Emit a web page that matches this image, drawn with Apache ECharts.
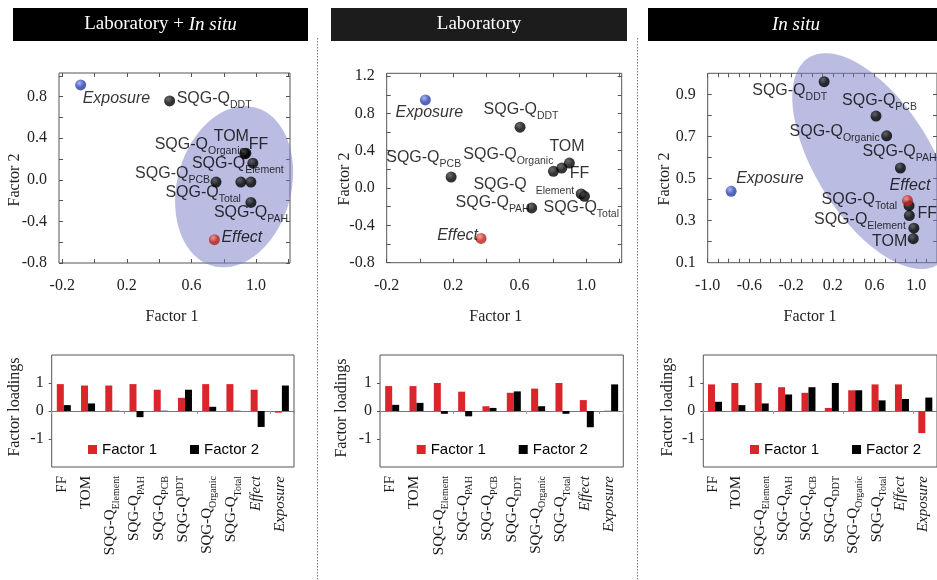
<!DOCTYPE html>
<html><head><meta charset="utf-8">
<script src="https://cdn.jsdelivr.net/npm/echarts@6/dist/echarts.min.js"></script>
<style>html,body{margin:0;padding:0;background:#fff}#c{width:937px;height:580px}</style>
</head><body><div id="c"></div>
<script>
// ---------------- DATA ----------------
const varKeys = ['FF','TOM','Element','PAH','PCB','DDT','Organic','Total','Effect','Exposure'];
const panelTitles = ['Laboratory + {i|In situ}', 'Laboratory', '{i|In situ}'];

// factor biplot coordinates (Factor 1, Factor 2)
const combF1 = [0.98, 0.937, 0.906, 0.968, 0.752, 0.465, 0.93, 0.968, 0.742, -0.086];
const combF2 = [0.16, 0.256, -0.022, -0.218, -0.022, 0.758, 0.25, -0.022, -0.576, 0.912];
const labF1  = [0.854, 0.90, 0.971, 0.673, 0.188, 0.603, 0.804, 0.991, 0.368, 0.033];
const labF2  = [0.214, 0.268, -0.063, -0.213, 0.118, 0.652, 0.179, -0.088, -0.540, 0.944];
const situF1 = [0.935, 0.972, 0.978, 0.849, 0.615, 0.117, 0.717, 0.932, 0.917, -0.775];
const situF2 = [0.324, 0.214, 0.264, 0.550, 0.797, 0.960, 0.703, 0.371, 0.395, 0.439];

// factor loadings (bar charts)
const combLoad1 = [0.96, 0.91, 0.91, 0.96, 0.76, 0.47, 0.96, 0.96, 0.76, -0.06];
const combLoad2 = [0.21, 0.27, 0.01, -0.22, 0.01, 0.76, 0.15, 0.01, -0.57, 0.91];
const labLoad1  = [0.89, 0.89, 1.0, 0.69, 0.17, 0.65, 0.80, 1.0, 0.39, 0.01];
const labLoad2  = [0.22, 0.29, -0.10, -0.19, 0.11, 0.70, 0.17, -0.10, -0.58, 0.95];
const situLoad1 = [0.95, 1.0, 1.0, 0.85, 0.65, 0.11, 0.74, 0.95, 0.95, -0.79];
const situLoad2 = [0.33, 0.21, 0.27, 0.59, 0.85, 1.0, 0.74, 0.38, 0.43, 0.48];

// tick values / tick labels
const combXTicks = [-0.2, 0, 0.2, 0.4, 0.6, 0.8, 1.0, 1.2];
const combXLabels = [-0.2, 0.2, 0.6, 1.0];
const combYTicks = [-0.8, -0.6, -0.4, -0.2, 0, 0.2, 0.4, 0.6, 0.8, 1.0];
const combYLabels = [-0.8, -0.4, 0, 0.4, 0.8];
const labXTicks = [-0.2, 0, 0.2, 0.4, 0.6, 0.8, 1.0, 1.2];
const labXLabels = [-0.2, 0.2, 0.6, 1.0];
const labYTicks = [-0.8, -0.6, -0.4, -0.2, 0, 0.2, 0.4, 0.6, 0.8, 1.0, 1.2];
const labYLabels = [-0.8, -0.4, 0, 0.4, 0.8, 1.2];
const situXTicks = [-1.0, -0.9, -0.8, -0.7, -0.6, -0.5, -0.4, -0.3, -0.2, -0.1, 0, 0.1, 0.2, 0.3, 0.4, 0.5, 0.6, 0.7, 0.8, 0.9, 1.0, 1.1];
const situXLabels = [-1.0, -0.6, -0.2, 0.2, 0.6, 1.0];
const situYTicks = [0.2, 0.3, 0.4, 0.5, 0.6, 0.7, 0.8, 0.9];
const situYLabels = [0.1, 0.3, 0.5, 0.7, 0.9];
const loadTicks = [-1, 0, 1];
const loadLabels = [-1, 0, 1];
const seriesNames = ['Factor 1', 'Factor 2'];

// ---------------- STYLE / LAYOUT ----------------
const SERIF = '"Liberation Serif","Times New Roman",serif';
const SANS = '"Liberation Sans",Arial,sans-serif';
const RED = '#d9262b';

// label placement: [align, dx, dy] relative to point centre
const LBL_COMB = {FF:['left',-4,-17], TOM:['right',3,-15], Organic:['right',0,-7], Element:['left',-49,-16],
  Total:['right',-10,13], PCB:['right',-6,-6], PAH:['left',-37,12], DDT:['left',7,0], Effect:['left',7,0], Exposure:['left',2,16]};
const LBL_LAB = {Exposure:['center',4,15], DDT:['center',1,-16], PCB:['right',10,-17], Organic:['right',0,-15], TOM:['left',-20,-14],
  FF:['left',8,8], Element:['right',-7,-7], Total:['left',-41,13], PAH:['right',-2,-3], Effect:['right',-3,-1]};
const LBL_SITU = {DDT:['right',3,11], PCB:['left',-34,-13], Organic:['right',-7,-2], PAH:['left',-38,-14], Effect:['left',-18,-13],
  Total:['right',-12,-4], FF:['left',8,0], Element:['right',-8,-7], TOM:['right',-6,5], Exposure:['left',5,-11]};

const PANELS = [
  {title: panelTitles[0], hdr:{x:13, w:295, fill:'#000'}, f1:combF1, f2:combF2, l1:combLoad1, l2:combLoad2,
   sc:{left:59, top:73, width:231, height:190}, xr:[-0.22,1.21], yr:[-0.8,1.027],
   xt:combXTicks, xl:combXLabels, yt:combYTicks, yl:combYLabels,
   bar:{left:51.7, top:355, width:242.3, height:112}, leg:88, lbl:LBL_COMB,
   ell:{c:[0.864,-0.067], a:82, b:57, ang:-75}, t2:[15,180], t1:[172,316.7], tl:[15,407], sup:true},
  {title: panelTitles[1], hdr:{x:331, w:296, fill:'#1c1c1c'}, f1:labF1, f2:labF2, l1:labLoad1, l2:labLoad2,
   sc:{left:386.7, top:73.3, width:235, height:189.4}, xr:[-0.2,1.215], yr:[-0.8,1.23],
   xt:labXTicks, xl:labXLabels, yt:labYTicks, yl:labYLabels,
   bar:{left:380, top:355, width:243.3, height:112}, leg:416.7, lbl:LBL_LAB,
   ell:null, t2:[345,179], t1:[495.7,316.7], tl:[341.7,408], gapEl:true},
  {title: panelTitles[2], hdr:{x:648, w:296, fill:'#000'}, f1:situF1, f2:situF2, l1:situLoad1, l2:situLoad2,
   sc:{left:707.7, top:73.3, width:238.3, height:189.4}, xr:[-1.0,1.2], yr:[0.1,1.0],
   xt:situXTicks, xl:situXLabels, yt:situYTicks, yl:situYLabels,
   bar:{left:703.3, top:355, width:243, height:112}, leg:750, lbl:LBL_SITU,
   ell:{c:[0.591,0.583], a:122, b:58, ang:58}, t2:[665,179], t1:[810,316.7], tl:[668,407]}
];

const RICH_SANS = {
  m:{fontFamily:SANS, fontSize:16, lineHeight:20, verticalAlign:'top', color:'#000'},
  s:{fontFamily:SANS, fontSize:10.5, lineHeight:20, verticalAlign:'bottom', color:'#000'},
  i:{fontFamily:SANS, fontSize:16, fontStyle:'italic', lineHeight:20, verticalAlign:'top', color:'#000'}
};
const RICH_SERIF = {
  m:{fontFamily:SERIF, fontSize:15, lineHeight:19, verticalAlign:'top', color:'#1a1a1a'},
  s:{fontFamily:SERIF, fontSize:10, lineHeight:19, verticalAlign:'bottom', color:'#1a1a1a'},
  p:{fontFamily:SERIF, fontSize:10, lineHeight:19, verticalAlign:'top', color:'#1a1a1a'},
  i:{fontFamily:SERIF, fontSize:15, fontStyle:'italic', lineHeight:19, verticalAlign:'top', color:'#1a1a1a'}
};

function sansLabel(k, gap) {
  if (k === 'FF' || k === 'TOM') return '{m|' + k + '}';
  if (k === 'Effect' || k === 'Exposure') return '{i|' + k + '}';
  if (gap && k === 'Element') return '{m|SQG-Q  }{s|' + k + '}';
  return '{m|SQG-Q}{s|' + k + '}';
}
function serifLabel(k, sup) {
  if (k === 'FF' || k === 'TOM') return '{m|' + k + '}';
  if (k === 'Effect' || k === 'Exposure') return '{i|' + k + '}';
  if (sup && k === 'DDT') return '{m|SQG-Q}{p|' + k + '}';
  return '{m|SQG-Q}{s|' + k + '}';
}
function sphere(k) {
  let c0 = '#4a4a4a', c1 = '#000';
  if (k === 'Effect') { c0 = '#ff8e7e'; c1 = '#b8201a'; }
  if (k === 'Exposure') { c0 = '#8e9ff5'; c1 = '#2a3caa'; }
  return {type:'radial', x:0.38, y:0.32, r:0.7, colorStops:[{offset:0,color:c0},{offset:0.6,color:c1},{offset:1,color:c1}]};
}
function ellRender(e) {
  return function (params, api) {
    const c = api.coord([api.value(0), api.value(1)]);
    const phi = e.ang * Math.PI / 180, pts = [];
    for (let k = 0; k < 120; k++) {
      const t = k / 120 * 2 * Math.PI, ex = e.a * Math.cos(t), ey = e.b * Math.sin(t);
      pts.push([c[0] + ex * Math.cos(phi) - ey * Math.sin(phi), c[1] + ex * Math.sin(phi) + ey * Math.cos(phi)]);
    }
    return {type:'polygon', shape:{points:pts}, style:{fill:'rgba(118,124,196,0.5)'}};
  };
}
const fmt1 = v => Number(v).toFixed(1);
const tickStyle = {color:'#555', width:1};

const grid = [], xAxis = [], yAxis = [], series = [], legend = [], graphic = [];

PANELS.forEach((p, i) => {
  // header
  graphic.push({type:'rect', shape:{x:p.hdr.x, y:8, width:p.hdr.w, height:33}, style:{fill:p.hdr.fill}, silent:true});
  graphic.push({type:'text', x:p.hdr.x + p.hdr.w / 2, y:24.5, silent:true,
    style:{text:p.title, fill:'#fff', font:'19px ' + SERIF, align:'center', verticalAlign:'middle',
      rich:{i:{fill:'#fff', fontStyle:'italic', fontSize:19, fontFamily:SERIF}}}});
  // axis titles
  graphic.push({type:'text', x:p.t2[0], y:p.t2[1], rotation:Math.PI / 2, silent:true,
    style:{text:'Factor 2', fill:'#222', font:'16px ' + SERIF, align:'center', verticalAlign:'middle'}});
  graphic.push({type:'text', x:p.t1[0], y:p.t1[1], silent:true,
    style:{text:'Factor 1', fill:'#222', font:'16px ' + SERIF, align:'center', verticalAlign:'middle'}});
  graphic.push({type:'text', x:p.tl[0], y:p.tl[1], rotation:Math.PI / 2, silent:true,
    style:{text:'Factor loadings', fill:'#222', font:'16px ' + SERIF, align:'center', verticalAlign:'middle'}});

  // ----- scatter grid -----
  const gS = grid.length;
  grid.push(Object.assign({show:true, borderColor:'#555', borderWidth:1, backgroundColor:'transparent'}, p.sc));
  const xb = xAxis.length;
  ['bottom','top'].forEach((pos, j) => xAxis.push({gridIndex:gS, type:'value', position:pos, min:p.xr[0], max:p.xr[1],
    axisLine:{show:false, onZero:false}, splitLine:{show:false},
    axisTick:{show:true, inside:true, length:4, customValues:p.xt, lineStyle:tickStyle},
    axisLabel:{show:j === 0, customValues:p.xl, formatter:fmt1, fontFamily:SERIF, fontSize:16, color:'#222', margin:15}}));
  const yb = yAxis.length;
  ['left','right'].forEach((pos, j) => yAxis.push({gridIndex:gS, type:'value', position:pos, min:p.yr[0], max:p.yr[1],
    axisLine:{show:false, onZero:false}, splitLine:{show:false},
    axisTick:{show:true, inside:true, length:4, customValues:p.yt, lineStyle:tickStyle},
    axisLabel:{show:j === 0, customValues:p.yl, formatter:fmt1, fontFamily:SERIF, fontSize:16, color:'#222', margin:12}}));
  if (p.ell) {
    series.push({type:'custom', coordinateSystem:'cartesian2d', xAxisIndex:xb, yAxisIndex:yb, z:2, silent:true, clip:false,
      renderItem:ellRender(p.ell), data:[p.ell.c]});
  }
  series.push({type:'scatter', xAxisIndex:xb, yAxisIndex:yb, z:4, silent:true,
    data:varKeys.map((k, j) => {
      const L = p.lbl[k];
      return {name:k, value:[p.f1[j], p.f2[j]], symbolSize:11, itemStyle:{color:sphere(k)},
        label:{show:true, position:'inside', align:L[0], verticalAlign:'middle', offset:[L[1], L[2]],
          formatter:sansLabel(k, p.gapEl), color:'#000', textBorderWidth:0, rich:RICH_SANS}};
    })});

  // ----- bar grid -----
  const gB = grid.length;
  grid.push(Object.assign({show:true, borderColor:'#555', borderWidth:1, backgroundColor:'transparent'}, p.bar));
  const xc = xAxis.length;
  xAxis.push({gridIndex:gB, type:'category', data:varKeys, position:'bottom',
    axisLine:{show:false, onZero:false}, axisTick:{show:false}, splitLine:{show:false},
    axisLabel:{interval:0, rotate:90, margin:9, formatter:v => serifLabel(v, p.sup), rich:RICH_SERIF, color:'#1a1a1a'}});
  xAxis.push({gridIndex:gB, type:'category', data:varKeys, position:'bottom',
    axisLine:{show:true, onZero:true, lineStyle:{color:'#777', width:1}},
    axisTick:{show:true, length:3, lineStyle:{color:'#999'}}, axisLabel:{show:false}, splitLine:{show:false}});
  const yc = yAxis.length;
  yAxis.push({gridIndex:gB, type:'value', min:-2, max:2, position:'left',
    axisLine:{show:false}, splitLine:{show:false},
    axisTick:{show:true, length:3, customValues:loadTicks, lineStyle:tickStyle},
    axisLabel:{customValues:loadLabels, fontFamily:SERIF, fontSize:16, color:'#222', margin:8}});
  [p.l1, p.l2].forEach((vals, j) => series.push({type:'bar', name:seriesNames[j], xAxisIndex:xc, yAxisIndex:yc,
    barWidth:7, barGap:'0%', itemStyle:{color:j === 0 ? RED : '#000'}, silent:true, data:vals}));
  legend.push({data:seriesNames, left:p.leg, top:442, padding:0, icon:'rect', itemWidth:9, itemHeight:9, itemGap:33,
    selectedMode:false, textStyle:{fontFamily:SANS, fontSize:15, color:'#000'}});
});

// dotted separators
[317.5, 637.5].forEach(x => graphic.push({type:'line', silent:true, shape:{x1:x, y1:38, x2:x, y2:580},
  style:{stroke:'#777', lineWidth:1, lineDash:[1.5, 1.5]}}));

const chart = echarts.init(document.getElementById('c'), null, {renderer:'canvas'});
chart.setOption({animation:false, backgroundColor:'#fff', grid, xAxis, yAxis, series, legend, graphic});
</script></body></html>
